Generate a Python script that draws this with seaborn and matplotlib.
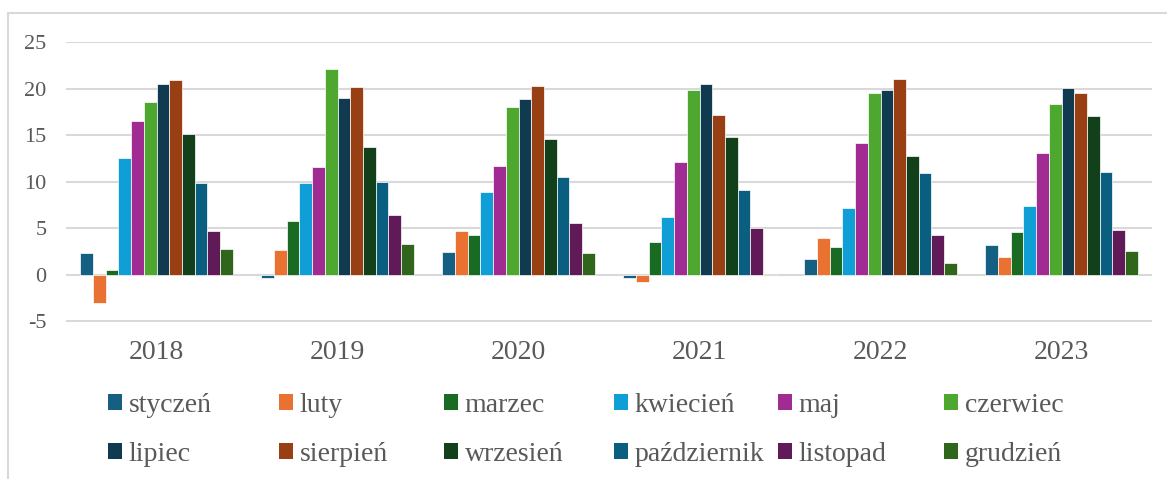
import matplotlib
matplotlib.use("Agg")
import matplotlib.pyplot as plt
import numpy as np
import pandas as pd
import seaborn as sns
from matplotlib.patches import Patch, Rectangle

# data
years = ['2018', '2019', '2020', '2021', '2022', '2023']
months = ['styczeń', 'luty', 'marzec', 'kwiecień', 'maj', 'czerwiec',
          'lipiec', 'sierpień', 'wrzesień', 'październik', 'listopad', 'grudzień']
v2018 = [2.3, -3.0, 0.5, 12.6, 16.5, 18.6, 20.5, 20.9, 15.1, 9.9, 4.7, 2.8]
v2019 = [-0.3, 2.7, 5.8, 9.9, 11.6, 22.1, 19.0, 20.2, 13.7, 10.0, 6.4, 3.3]
v2020 = [2.5, 4.7, 4.3, 8.9, 11.7, 18.0, 18.9, 20.3, 14.6, 10.5, 5.6, 2.3]
v2021 = [-0.3, -0.8, 3.5, 6.2, 12.1, 19.9, 20.5, 17.2, 14.8, 9.1, 5.0, 0.1]
v2022 = [1.7, 4.0, 3.0, 7.2, 14.2, 19.5, 19.9, 21.0, 12.8, 10.9, 4.3, 1.3]
v2023 = [3.2, 1.9, 4.6, 7.4, 13.1, 18.3, 20.1, 19.5, 17.1, 11.0, 4.8, 2.6]
month_colors = ['#156082', '#E97132', '#196B24', '#0F9ED5', '#A02B93', '#4EA72E',
                '#0F3A50', '#983F14', '#11401A', '#0A5F80', '#601A58', '#30651C']

values = [v2018, v2019, v2020, v2021, v2022, v2023]
rows = []
for y, vals in zip(years, values):
    for m, v in zip(months, vals):
        rows.append({'rok': y, 'miesiąc': m, 'wartość': v})
df = pd.DataFrame(rows)

sns.set_style('white')
plt.rcParams['font.family'] = ['Liberation Serif', 'DejaVu Serif']
plt.rcParams['axes.unicode_minus'] = False

W, H = 1167, 479
fig = plt.figure(figsize=(W / 100, H / 100), dpi=100)
ax = fig.add_axes([66 / W, 1 - 321.5 / H, (1152 - 66) / W, (321.5 - 42) / H])

sns.barplot(data=df, x='rok', y='wartość', hue='miesiąc', hue_order=months,
            palette=month_colors, saturation=1, width=0.84, errorbar=None,
            legend=False, edgecolor='white', linewidth=0.5, ax=ax, zorder=3)

text_col = '#595959'
ax.set_ylim(-5, 25)
ax.set_yticks(range(-5, 26, 5))
ax.set_yticklabels([str(t) for t in range(-5, 26, 5)])
ax.grid(axis='y', color='#D9D9D9', linewidth=1.5, zorder=0)
ax.set_axisbelow(True)
for s in ax.spines.values():
    s.set_visible(False)
ax.set_xlabel('')
ax.set_ylabel('')
ax.tick_params(axis='y', length=0, pad=14, labelsize=16, labelcolor=text_col)
ax.tick_params(axis='x', length=0, pad=13, labelsize=20, labelcolor=text_col)

# chart border (top and left visible)
fig.patches.append(Rectangle((8 / W, -0.2), 1.5, (H - 13) / H + 0.2,
                             transform=fig.transFigure, fill=False,
                             edgecolor='#D9D9D9', linewidth=1.5))

# legend: six columns of two entries each
col_x = [108, 279, 444, 614, 778, 944]
for c in range(6):
    hs = [Patch(facecolor=month_colors[c], edgecolor='none'),
          Patch(facecolor=month_colors[c + 6], edgecolor='none')]
    leg = fig.legend(hs, [months[c], months[c + 6]], loc='upper left',
                     bbox_to_anchor=(col_x[c] / W, 1 - 393 / H),
                     frameon=False, fontsize=20, handlelength=0.5,
                     handleheight=0.5, handletextpad=0.25, labelspacing=0.85,
                     borderpad=0, borderaxespad=0)
    for t in leg.get_texts():
        t.set_color(text_col)

fig.savefig('out.png', dpi=100)
